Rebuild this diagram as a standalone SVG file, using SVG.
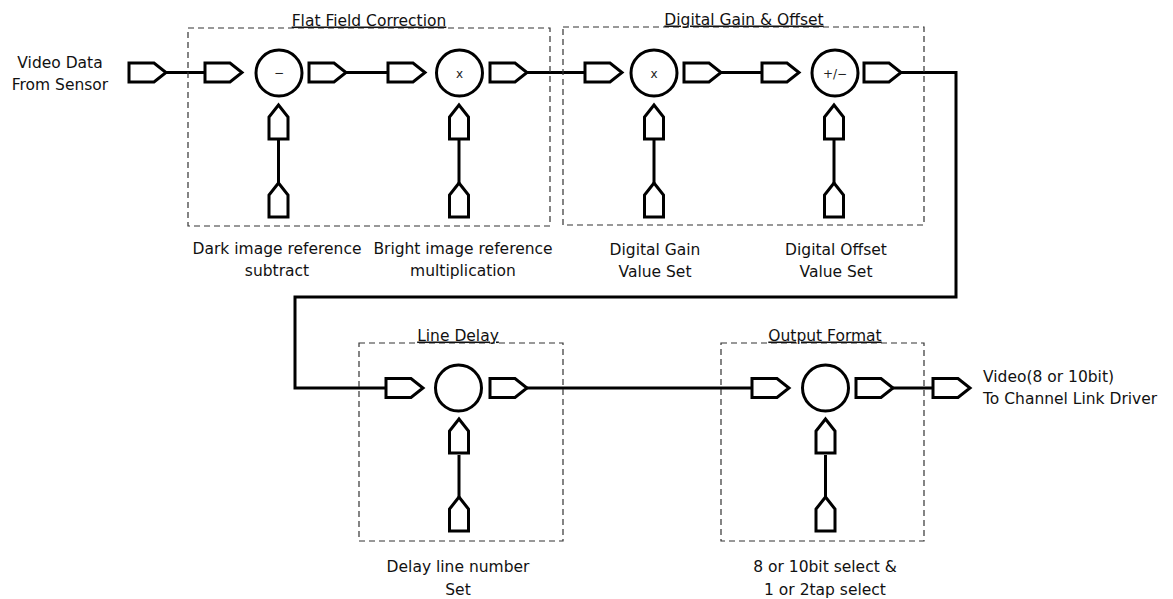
<svg xmlns="http://www.w3.org/2000/svg" width="1173" height="599" viewBox="0 0 1173 599">
<style>
.t{font-family:"DejaVu Sans","Liberation Sans",sans-serif;font-size:15.5px;fill:#111}
.ttl{font-family:"DejaVu Sans","Liberation Sans",sans-serif;font-size:15.5px;fill:#111;text-decoration:underline}
.op{font-family:"DejaVu Sans","Liberation Sans",sans-serif;font-size:12px;fill:#222}
.box{fill:none;stroke:#333;stroke-width:1.2;stroke-dasharray:6 4}
.sh{fill:#fff;stroke:#000;stroke-width:3;stroke-linejoin:miter}
.ln{fill:none;stroke:#000;stroke-width:3}
</style>
<defs>
<path id="ph" d="M0,-9.5 H25 L37,0 L25,9.5 H0 Z" class="sh"/>
<path id="pv" d="M0,0 L9.5,12 V34 H-9.5 V12 Z" class="sh"/>
</defs>
<rect width="1173" height="599" fill="#fff"/>

<g id="connectors">
<line class="ln" x1="166" y1="72.5" x2="205" y2="72.5"/>
<line class="ln" x1="346" y1="72.5" x2="388" y2="72.5"/>
<line class="ln" x1="527" y1="72.5" x2="585" y2="72.5"/>
<line class="ln" x1="721" y1="72.5" x2="762" y2="72.5"/>
<polyline class="ln" points="901,72.5 956,72.5 956,297 295,297 295,388 385,388"/>
<line class="ln" x1="527" y1="388" x2="752" y2="388"/>
<line class="ln" x1="893" y1="388" x2="933" y2="388"/>
<line class="ln" x1="278.5" y1="139" x2="278.5" y2="183"/>
<line class="ln" x1="459" y1="139" x2="459" y2="183"/>
<line class="ln" x1="654" y1="139" x2="654" y2="183"/>
<line class="ln" x1="834" y1="139" x2="834" y2="183"/>
<line class="ln" x1="459" y1="455" x2="459" y2="497"/>
<line class="ln" x1="825.5" y1="455" x2="825.5" y2="497"/>
</g>

<g id="input">
<text class="t" x="60" y="68" text-anchor="middle">Video Data</text>
<text class="t" x="60" y="90" text-anchor="middle">From Sensor</text>
<use href="#ph" x="129" y="72.5"/>
</g>

<g id="flat-field-correction">
<rect class="box" x="188" y="28" width="362" height="198"/>
<text class="ttl" x="369" y="25.5" text-anchor="middle">Flat Field Correction</text>
<use href="#ph" x="205" y="72.5"/>
<circle class="sh" cx="279" cy="73" r="23"/>
<text class="op" x="279" y="77" text-anchor="middle">−</text>
<use href="#ph" x="309" y="72.5"/>
<use href="#pv" x="278.5" y="105"/>
<use href="#pv" x="278.5" y="183"/>
<use href="#ph" x="388" y="72.5"/>
<circle class="sh" cx="459.5" cy="73" r="23"/>
<text class="op" x="459.5" y="77.5" text-anchor="middle">x</text>
<use href="#ph" x="490" y="72.5"/>
<use href="#pv" x="459" y="105"/>
<use href="#pv" x="459" y="183"/>
<text class="t" x="277" y="254" text-anchor="middle">Dark image reference</text>
<text class="t" x="277" y="276" text-anchor="middle">subtract</text>
<text class="t" x="463" y="254" text-anchor="middle">Bright image reference</text>
<text class="t" x="463" y="276" text-anchor="middle">multiplication</text>
</g>

<g id="digital-gain-offset">
<rect class="box" x="563" y="27" width="361" height="198"/>
<text class="ttl" x="744" y="24.5" text-anchor="middle">Digital Gain &amp; Offset</text>
<use href="#ph" x="585" y="72.5"/>
<circle class="sh" cx="654" cy="73" r="23"/>
<text class="op" x="654" y="77.5" text-anchor="middle">x</text>
<use href="#ph" x="684" y="72.5"/>
<use href="#pv" x="654" y="105"/>
<use href="#pv" x="654" y="183"/>
<use href="#ph" x="762" y="72.5"/>
<circle class="sh" cx="835" cy="73" r="23"/>
<text class="op" x="835" y="77.5" text-anchor="middle">+/−</text>
<use href="#ph" x="864" y="72.5"/>
<use href="#pv" x="834" y="105"/>
<use href="#pv" x="834" y="183"/>
<text class="t" x="655" y="255" text-anchor="middle">Digital Gain</text>
<text class="t" x="655" y="277" text-anchor="middle">Value Set</text>
<text class="t" x="836" y="255" text-anchor="middle">Digital Offset</text>
<text class="t" x="836" y="277" text-anchor="middle">Value Set</text>
</g>

<g id="line-delay">
<rect class="box" x="359" y="343" width="204" height="198"/>
<text class="ttl" x="458" y="340.5" text-anchor="middle">Line Delay</text>
<use href="#ph" x="386" y="388"/>
<circle class="sh" cx="458.5" cy="388" r="23"/>
<use href="#ph" x="490" y="388"/>
<use href="#pv" x="459" y="419"/>
<use href="#pv" x="459" y="497"/>
<text class="t" x="458" y="572" text-anchor="middle">Delay line number</text>
<text class="t" x="458" y="595" text-anchor="middle">Set</text>
</g>

<g id="output-format">
<rect class="box" x="721" y="343" width="203" height="198"/>
<text class="ttl" x="825" y="340.5" text-anchor="middle">Output Format</text>
<use href="#ph" x="752" y="388"/>
<circle class="sh" cx="825.5" cy="388" r="23"/>
<use href="#ph" x="856" y="388"/>
<use href="#pv" x="825.5" y="419"/>
<use href="#pv" x="825.5" y="497"/>
<text class="t" x="825" y="572" text-anchor="middle">8 or 10bit select &amp;</text>
<text class="t" x="825" y="595" text-anchor="middle">1 or 2tap select</text>
</g>

<g id="output">
<use href="#ph" x="933" y="388"/>
<text class="t" x="983" y="382">Video(8 or 10bit)</text>
<text class="t" x="983" y="404">To Channel Link Driver</text>
</g>
</svg>
